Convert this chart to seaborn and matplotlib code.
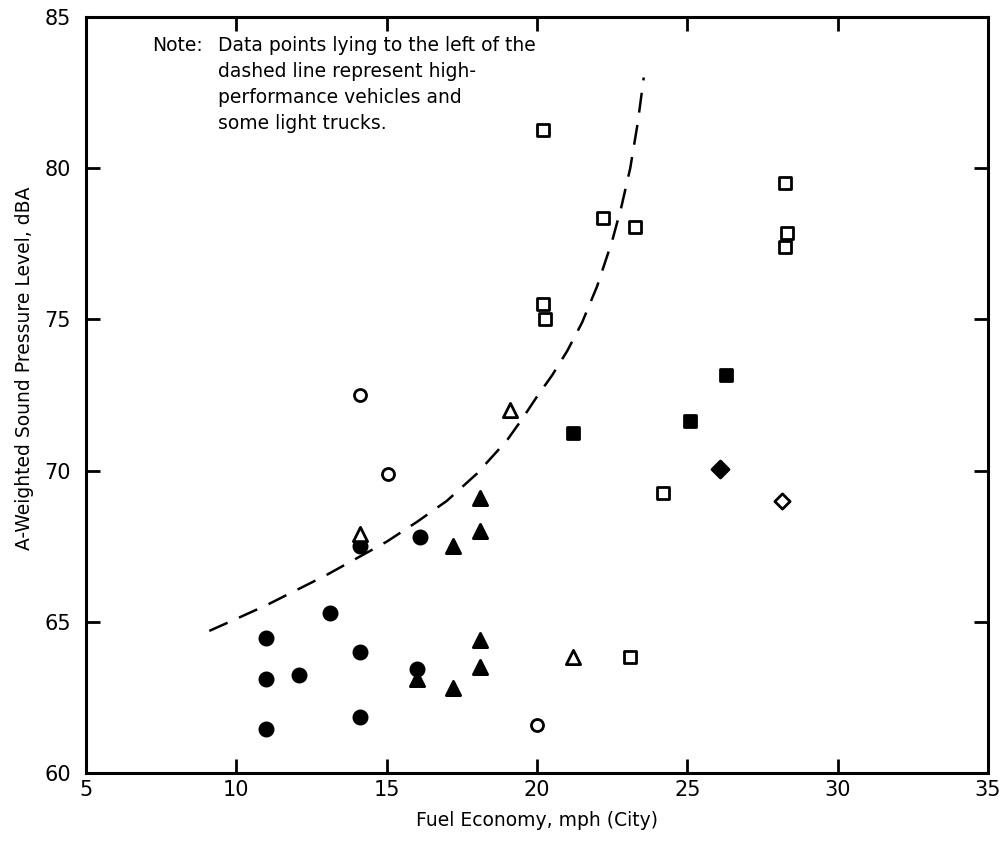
import matplotlib
matplotlib.use("Agg")
import matplotlib.pyplot as plt
import seaborn as sns
import pandas as pd

# ---- data ----
filled_circle_x = [11, 11, 11, 12.1, 13.1, 14.1, 14.1, 14.1, 16.0, 16.1]
filled_circle_y = [64.45, 63.1, 61.45, 63.25, 65.3, 64.0, 61.85, 67.5, 63.45, 67.8]

filled_triangle_x = [16.0, 17.2, 17.2, 18.1, 18.1, 18.1, 18.1]
filled_triangle_y = [63.1, 62.8, 67.5, 64.4, 63.5, 69.1, 68.0]

open_triangle_x = [14.1, 19.1, 21.2]
open_triangle_y = [67.9, 72.0, 63.85]

open_circle_x = [14.1, 15.05, 20.0]
open_circle_y = [72.5, 69.9, 61.6]

open_square_x = [20.2, 22.2, 23.25, 20.2, 20.25, 24.2, 23.1, 28.25, 28.3, 28.25]
open_square_y = [81.25, 78.35, 78.05, 75.5, 75.0, 69.25, 63.85, 79.5, 77.85, 77.4]

filled_square_x = [21.2, 25.1, 26.3]
filled_square_y = [71.25, 71.65, 73.15]

filled_diamond_x = [26.1]
filled_diamond_y = [70.05]

open_diamond_x = [28.15]
open_diamond_y = [69.0]

boundary_x = [9.1, 10.0, 11.0, 12.0, 13.0, 14.0, 15.0, 16.0, 17.0, 18.0,
              19.0, 19.5, 20.0, 20.5, 21.0, 21.5, 22.0, 22.5, 22.8, 23.1,
              23.35, 23.55]
boundary_y = [64.7, 65.1, 65.55, 66.05, 66.55, 67.1, 67.65, 68.3, 69.0, 69.9,
              71.0, 71.7, 72.45, 73.15, 73.95, 74.9, 76.1, 77.6, 78.7, 80.0,
              81.5, 83.0]

x_ticks = [5, 10, 15, 20, 25, 30, 35]
y_ticks = [60, 65, 70, 75, 80, 85]

note_label = "Note:"
note_lines = ["Data points lying to the left of the",
              "dashed line represent high-",
              "performance vehicles and",
              "some light trucks."]
x_label = "Fuel Economy, mph (City)"
y_label = "A-Weighted Sound Pressure Level, dBA"

# ---- figure ----
sns.set_theme(style="ticks")
plt.rcParams["font.family"] = ["DejaVu Sans"]
plt.rcParams["text.color"] = "black"
plt.rcParams["axes.labelcolor"] = "black"

fig = plt.figure(figsize=(10.05, 8.43), dpi=100)
ax = fig.add_axes([0.0856, 0.083, 0.8975, 0.8968])

groups = [
    (filled_circle_x, filled_circle_y, "o", True, 90),
    (filled_triangle_x, filled_triangle_y, "^", True, 105),
    (open_triangle_x, open_triangle_y, "^", False, 105),
    (open_circle_x, open_circle_y, "o", False, 75),
    (open_square_x, open_square_y, "s", False, 70),
    (filled_square_x, filled_square_y, "s", True, 80),
    (filled_diamond_x, filled_diamond_y, "D", True, 75),
    (open_diamond_x, open_diamond_y, "D", False, 60),
]
for gx, gy, mk, filled, size in groups:
    df = pd.DataFrame({"x": gx, "y": gy})
    sns.scatterplot(data=df, x="x", y="y", ax=ax, marker=mk, s=size,
                    facecolor="black" if filled else "white",
                    edgecolor="black", linewidth=2.0, zorder=3, legend=False)

ax.plot(boundary_x, boundary_y, color="black", linewidth=1.8,
        linestyle=(0, (8, 5)), zorder=2)

ax.set_xlim(5, 35)
ax.set_ylim(60, 85)
ax.set_xticks(x_ticks)
ax.set_yticks(y_ticks)
ax.set_xticklabels([str(v) for v in x_ticks])
ax.set_yticklabels([str(v) for v in y_ticks])

ax.tick_params(axis="both", which="major", direction="in", length=10, width=2,
               colors="black", labelcolor="black", labelsize=15,
               top=True, right=True)
ax.tick_params(axis="x", pad=5)
ax.tick_params(axis="y", pad=11)
for sp in ax.spines.values():
    sp.set_linewidth(2.2)
    sp.set_color("black")
    sp.set_visible(True)

ax.set_xlabel(x_label, fontsize=13.5, labelpad=8, color="black")
ax.set_ylabel(y_label, fontsize=13.5, color="black")
ax.yaxis.set_label_coords(-0.058, 0.535)

# note text
ax.text(0.073, 0.963, note_label, transform=ax.transAxes, fontsize=13.5,
        va="center", ha="left", color="black")
for i, line in enumerate(note_lines):
    ax.text(0.146, 0.963 - i * 0.0345, line, transform=ax.transAxes,
            fontsize=13.5, va="center", ha="left", color="black")

fig.savefig("out.png", dpi=100, facecolor="white")
